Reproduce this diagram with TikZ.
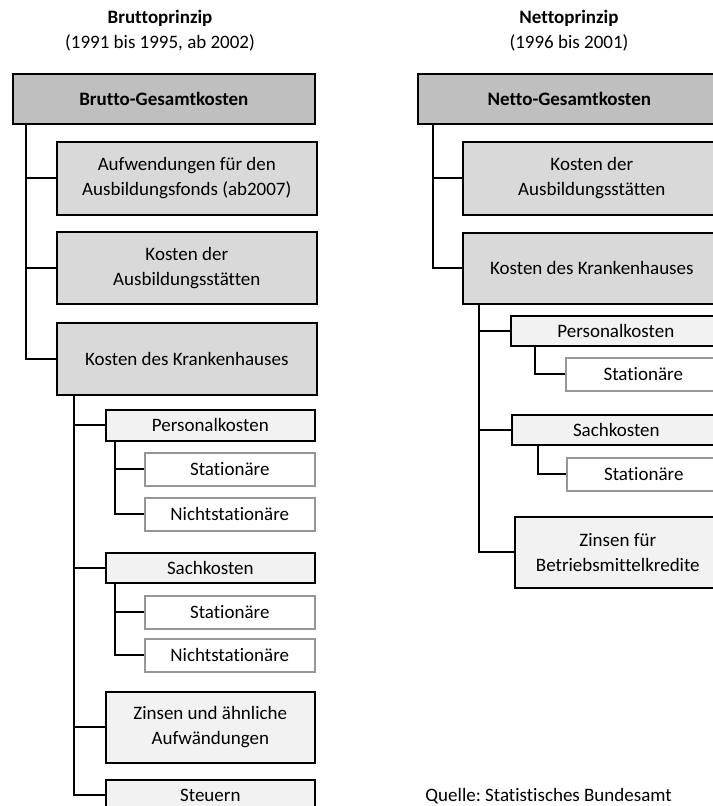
\documentclass[tikz,border=0pt]{standalone}
\usepackage{fontspec}
\setmainfont{Carlito}[Ligatures=NoCommon]
\frenchspacing
\definecolor{kopfgrau}{RGB}{191,191,191}
\definecolor{mittelgrau}{RGB}{217,217,217}
\definecolor{hellgrau}{RGB}{242,242,242}
\definecolor{randgrau}{RGB}{150,150,150}
\begin{document}
\begin{tikzpicture}[x=0.025cm,y=-0.025cm,line width=1.1pt,
  font=\fontsize{13.5}{18}\selectfont,
  kasten/.style={draw,anchor=north west,inner sep=0pt,align=center},
  kopf/.style={kasten,fill=kopfgrau,minimum height=1.25cm},
  stufeA/.style={kasten,fill=mittelgrau},
  stufeB/.style={kasten,fill=hellgrau},
  stufeC/.style={kasten,draw=randgrau,fill=white,minimum height=0.825cm},
  ast/.style={line width=1.3pt}]
  \useasboundingbox (0,0) rectangle (712,806);

  % Überschriften
  \node[align=center] (tb) at (160,31) {\textbf{Bruttoprinzip}\\(1991 bis 1995, ab 2002)};
  \node[align=center] (tn) at (569,31) {\textbf{Nettoprinzip}\\(1996 bis 2001)};

  % Bruttoprinzip: Kästen
  \node[kopf,minimum width=7.55cm] (bgk) at (12,73) {\textbf{Brutto-Gesamtkosten}};
  \node[stufeA,minimum width=6.5cm,minimum height=1.825cm] (ba) at (56,141)
    {Aufwendungen für den\\Ausbildungsfonds (ab2007)};
  \node[stufeA,minimum width=6.5cm,minimum height=1.8cm] (bas) at (56,231)
    {Kosten der\\Ausbildungsstätten};
  \node[stufeA,minimum width=6.5cm,minimum height=1.8cm] (bkk) at (56,322)
    {Kosten des Krankenhauses};
  \node[stufeB,minimum width=5.225cm,minimum height=0.775cm] (bpk) at (105,409) {Personalkosten};
  \node[stufeC,minimum width=4.25cm] (bps) at (144,452) {Stationäre};
  \node[stufeC,minimum width=4.25cm] (bpn) at (144,497) {Nichtstationäre};
  \node[stufeB,minimum width=5.225cm,minimum height=0.75cm] (bsk) at (105,552) {Sachkosten};
  \node[stufeC,minimum width=4.25cm] (bss) at (144,595) {Stationäre};
  \node[stufeC,minimum width=4.25cm] (bsn) at (144,638) {Nichtstationäre};
  \node[stufeB,minimum width=5.225cm,minimum height=1.775cm] (bz) at (105,691)
    {Zinsen und ähnliche\\Aufwändungen};
  \node[stufeB,minimum width=5.225cm,minimum height=0.775cm] (bst) at (105,779) {Steuern};

  % Bruttoprinzip: Verbindungen
  \coordinate (bx1) at (26,0);
  \coordinate (bx2) at (74,0);
  \coordinate (bx3) at (115,0);
  \foreach \k in {ba,bas,bkk} \draw[ast] (bgk.south -| bx1) |- (\k.west);
  \foreach \k in {bpk,bsk,bz,bst} \draw[ast] (bkk.south -| bx2) |- (\k.west);
  \foreach \k in {bps,bpn} \draw[ast] (bpk.south -| bx3) |- (\k.west);
  \foreach \k in {bss,bsn} \draw[ast] (bsk.south -| bx3) |- (\k.west);

  % Nettoprinzip: Kästen
  \node[kopf,minimum width=7.575cm] (ngk) at (417,73) {\textbf{Netto-Gesamtkosten}};
  \node[stufeA,minimum width=6.45cm,minimum height=1.825cm] (nas) at (462,141)
    {Kosten der\\Ausbildungsstätten};
  \node[stufeA,minimum width=6.45cm,minimum height=1.775cm] (nkk) at (462,232)
    {Kosten des Krankenhauses};
  \node[stufeB,minimum width=5.25cm,minimum height=0.75cm] (npk) at (510,315) {Personalkosten};
  \node[stufeC,minimum width=3.875cm] (nps) at (565,357) {Stationäre};
  \node[stufeB,minimum width=5.225cm,minimum height=0.75cm] (nsk) at (511,414) {Sachkosten};
  \node[stufeC,minimum width=3.85cm] (nss) at (566,457) {Stationäre};
  \node[stufeB,minimum width=5.15cm,minimum height=1.775cm] (nz) at (514,516)
    {Zinsen für\\Betriebsmittelkredite};

  % Nettoprinzip: Verbindungen
  \coordinate (nx1) at (433,0);
  \coordinate (nx2) at (479,0);
  \coordinate (nx3) at (535,0);
  \coordinate (nx4) at (538,0);
  \foreach \k in {nas,nkk} \draw[ast] (ngk.south -| nx1) |- (\k.west);
  \foreach \k in {npk,nsk,nz} \draw[ast] (nkk.south -| nx2) |- (\k.west);
  \draw[ast] (npk.south -| nx3) |- (nps.west);
  \draw[ast] (nsk.south -| nx4) |- (nss.west);

  % Quelle
  \node[anchor=base west] (quelle) at (420,801) {Quelle: Statistisches Bundesamt};
\end{tikzpicture}
\end{document}
